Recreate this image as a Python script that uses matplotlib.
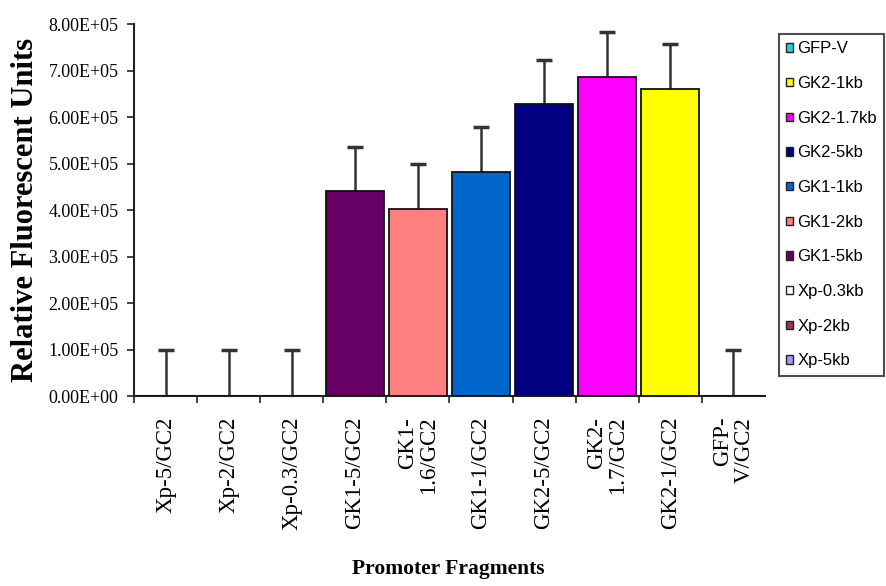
import numpy as np
import matplotlib
matplotlib.use("Agg")
import matplotlib.pyplot as plt
from matplotlib.patches import Patch
from matplotlib.ticker import FuncFormatter

# data
categories = ["Xp-5/GC2", "Xp-2/GC2", "Xp-0.3/GC2", "GK1-5/GC2", "GK1-\n1.6/GC2",
              "GK1-1/GC2", "GK2-5/GC2", "GK2-\n1.7/GC2", "GK2-1/GC2", "GFP-\nV/GC2"]
series = ["Xp-5kb", "Xp-2kb", "Xp-0.3kb", "GK1-5kb", "GK1-2kb",
          "GK1-1kb", "GK2-5kb", "GK2-1.7kb", "GK2-1kb", "GFP-V"]
values = [0, 0, 0, 4.41e5, 4.02e5, 4.82e5, 6.28e5, 6.85e5, 6.60e5, 0]
errors = [1.0e5, 1.0e5, 1.0e5, 0.95e5, 0.97e5, 0.97e5, 0.95e5, 0.98e5, 0.97e5, 1.0e5]
colors = ["#9999FF", "#993366", "#FFFFEE", "#660066", "#FF8080",
          "#0066CC", "#000080", "#FF00FF", "#FFFF00", "#33CCCC"]

serif = "Liberation Serif"

fig = plt.figure(figsize=(8.86, 5.86), dpi=100)
ax = fig.add_axes([0.1512, 0.3242, 0.7122, 0.6348])

x = np.arange(len(categories))
for xi, v, c, name in zip(x, values, colors, series):
    ax.bar(xi, v, width=0.92, color=c, edgecolor="#111111", linewidth=1.3,
           label=name, zorder=3)

# symmetric bars drawn behind the columns, so only the upper half shows
ax.errorbar(x, values, yerr=errors, fmt="none", ecolor="#333333",
            elinewidth=1.8, capsize=6, capthick=2.5, zorder=2)

ax.set_xlim(-0.5, len(categories) - 0.5)
ax.set_ylim(0, 8e5)
ax.set_yticks(np.arange(0, 8.01e5, 1e5))
ax.yaxis.set_major_formatter(FuncFormatter(lambda v, p: "{:.2E}".format(v)))

ax.set_xticks(np.arange(-0.5, len(categories) - 0.5, 1))
ax.set_xticklabels([])
ax.set_xticks(x, categories, minor=True)
ax.tick_params(axis="x", which="minor", length=0, pad=15)
ax.tick_params(axis="x", which="major", direction="out", length=5, width=1.2, color="#222222")
ax.tick_params(axis="y", direction="out", length=5, width=1.2, color="#222222", pad=6)

for lab in ax.get_xticklabels(minor=True):
    lab.set_rotation(90)
    lab.set_va("top")
    lab.set_ha("center")
    lab.set_multialignment("right")
    lab.set_fontfamily(serif)
    lab.set_fontsize(16.5)
    lab.set_linespacing(1.0)
for lab in ax.get_yticklabels():
    lab.set_fontfamily(serif)
    lab.set_fontsize(13)

for s in ["top", "right"]:
    ax.spines[s].set_visible(False)
for s in ["left", "bottom"]:
    ax.spines[s].set_linewidth(1.5)
    ax.spines[s].set_color("#222222")

ax.set_ylabel("Relative Fluorescent Units", fontfamily=serif, fontweight="bold",
              fontsize=22, labelpad=6)
fig.text(0.5056, 0.012, "Promoter Fragments", fontfamily=serif, fontweight="bold",
         fontsize=15.5, ha="center", va="bottom")

handles = [Patch(facecolor=c, edgecolor="#222222", linewidth=1.0) for c in colors][::-1]
leg = fig.legend(handles, series[::-1], loc="upper left", bbox_to_anchor=(0.879, 0.942),
                 bbox_transform=fig.transFigure, borderaxespad=0, fancybox=False,
                 edgecolor="#222222", prop={"family": "Liberation Sans", "size": 12},
                 handlelength=0.4, handleheight=0.4, handletextpad=0.25,
                 labelspacing=1.18, borderpad=0.45)
leg.get_frame().set_linewidth(1.5)

fig.savefig("out.png", dpi=100)
